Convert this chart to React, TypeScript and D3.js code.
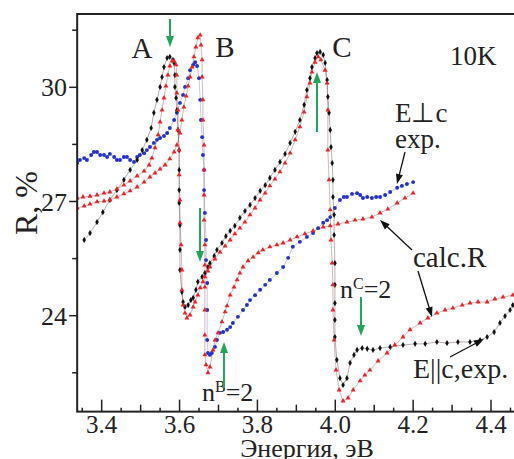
import React from "react";
import * as d3 from "d3";

// ---- data ----
// E||c experimental (black)
const blackExp: [number, number][] = [
  [3.355, 25.99], [3.37, 26.17], [3.388, 26.46], [3.403, 26.72], [3.421, 27.04], [3.439, 27.3],
  [3.457, 27.57], [3.473, 27.83], [3.491, 28.09], [3.504, 28.35], [3.516, 28.62], [3.527, 28.93],
  [3.534, 29.33], [3.542, 29.67], [3.55, 30.01], [3.555, 30.27], [3.56, 30.53], [3.568, 30.77],
  [3.575, 30.8], [3.583, 30.72], [3.586, 30.64], [3.588, 30.32], [3.588, 30.01], [3.591, 29.72],
  [3.593, 29.4], [3.596, 28.88], [3.599, 28.35], [3.599, 27.83], [3.599, 27.3], [3.599, 26.96],
  [3.601, 26.38], [3.601, 25.73], [3.601, 25.2], [3.606, 24.62], [3.609, 24.36], [3.614, 24.23],
  [3.622, 24.28], [3.629, 24.41], [3.635, 24.47], [3.642, 24.68], [3.647, 24.89], [3.658, 25.02],
  [3.665, 25.12], [3.673, 25.28], [3.678, 25.38], [3.689, 25.57], [3.696, 25.73], [3.709, 25.91],
  [3.719, 26.09], [3.73, 26.23], [3.742, 26.36], [3.755, 26.57], [3.768, 26.75], [3.781, 26.91],
  [3.794, 27.09], [3.807, 27.28], [3.82, 27.43], [3.832, 27.62], [3.845, 27.83], [3.858, 28.04],
  [3.871, 28.25], [3.884, 28.54], [3.897, 28.83], [3.909, 29.14], [3.92, 29.54], [3.927, 29.93],
  [3.935, 30.24], [3.94, 30.53], [3.948, 30.77], [3.953, 30.9], [3.961, 30.93], [3.969, 30.85],
  [3.974, 30.64], [3.979, 30.19], [3.981, 29.75], [3.984, 29.33], [3.987, 28.88], [3.989, 28.43],
  [3.992, 28.01], [3.994, 27.57], [3.994, 27.12], [3.997, 26.65], [3.997, 26.12], [3.999, 25.38],
  [3.999, 24.81], [3.999, 24.33], [3.999, 23.89], [3.999, 23.44], [4.004, 22.84], [4.012, 22.36],
  [4.02, 22.18], [4.03, 22.36], [4.038, 22.76], [4.048, 22.97], [4.056, 23.1], [4.069, 23.15],
  [4.082, 23.13], [4.097, 23.1], [4.115, 23.15], [4.141, 23.18], [4.174, 23.23], [4.205, 23.26],
  [4.231, 23.26], [4.261, 23.31], [4.287, 23.28], [4.315, 23.31], [4.346, 23.31], [4.372, 23.36],
  [4.39, 23.44], [4.408, 23.57], [4.423, 23.81], [4.436, 23.99], [4.449, 24.15], [4.456, 24.28],
];

// calc. R for E||c (red)
const redCalcPar: [number, number][] = [
  [3.337, 27.09], [3.352, 27.12], [3.37, 27.14], [3.388, 27.17], [3.406, 27.22], [3.421, 27.25],
  [3.439, 27.33], [3.457, 27.43], [3.473, 27.54], [3.491, 27.67], [3.509, 27.8], [3.522, 27.96],
  [3.529, 28.14], [3.537, 28.41], [3.545, 28.75], [3.55, 29.09], [3.555, 29.4], [3.56, 29.72],
  [3.565, 30.03], [3.57, 30.32], [3.575, 30.56], [3.581, 30.69], [3.586, 30.69], [3.591, 30.59],
  [3.593, 30.32], [3.593, 29.85], [3.596, 29.4], [3.596, 28.88], [3.599, 28.35], [3.599, 27.7],
  [3.601, 27.04], [3.601, 26.44], [3.604, 25.86], [3.606, 25.2], [3.606, 24.68], [3.609, 24.28],
  [3.614, 24.07], [3.619, 23.94], [3.627, 24.02], [3.635, 24.23], [3.64, 24.36], [3.647, 24.54],
  [3.653, 24.73], [3.66, 24.89], [3.665, 25.02], [3.673, 25.17], [3.678, 25.28], [3.691, 25.49],
  [3.704, 25.67], [3.717, 25.83], [3.73, 25.99], [3.742, 26.15], [3.755, 26.3], [3.768, 26.46],
  [3.781, 26.65], [3.794, 26.83], [3.807, 27.04], [3.82, 27.22], [3.832, 27.41], [3.845, 27.59],
  [3.858, 27.78], [3.871, 28.01], [3.884, 28.27], [3.897, 28.62], [3.909, 28.96], [3.92, 29.35],
  [3.927, 29.75], [3.935, 30.11], [3.94, 30.4], [3.948, 30.66], [3.956, 30.8], [3.963, 30.72],
  [3.974, 30.45], [3.979, 30.11], [3.981, 29.4], [3.981, 28.35], [3.984, 27.57], [3.987, 26.78],
  [3.989, 25.99], [3.992, 25.38], [3.994, 24.81], [3.994, 24.15], [3.997, 23.36], [4.002, 22.57],
  [4.01, 22.05], [4.02, 21.76], [4.033, 21.84], [4.046, 22.05], [4.064, 22.29], [4.076, 22.44],
  [4.089, 22.57], [4.11, 22.81], [4.133, 23.02], [4.153, 23.23], [4.174, 23.44], [4.192, 23.63],
  [4.218, 23.81], [4.238, 23.94], [4.261, 24.07], [4.282, 24.15], [4.302, 24.2], [4.326, 24.28],
  [4.346, 24.33], [4.367, 24.36], [4.39, 24.36], [4.41, 24.44], [4.431, 24.49], [4.456, 24.54],
];

// calc. R for E⊥c (red)
const redCalcPerp: [number, number][] = [
  [3.337, 26.83], [3.355, 26.88], [3.37, 26.93], [3.388, 26.99], [3.406, 27.01], [3.421, 27.04],
  [3.439, 27.12], [3.457, 27.2], [3.473, 27.28], [3.491, 27.38], [3.509, 27.51], [3.524, 27.64],
  [3.537, 27.75], [3.55, 27.85], [3.563, 27.96], [3.575, 28.12], [3.586, 28.3], [3.593, 28.48],
  [3.601, 28.8], [3.606, 29.14], [3.611, 29.48], [3.617, 29.77], [3.622, 30.03], [3.627, 30.27],
  [3.632, 30.53], [3.637, 30.8], [3.642, 31.06], [3.647, 31.3], [3.653, 31.37], [3.655, 31.11],
  [3.658, 30.72], [3.658, 30.27], [3.66, 29.67], [3.66, 29.14], [3.663, 28.48], [3.663, 27.83],
  [3.663, 27.17], [3.663, 26.51], [3.665, 25.86], [3.665, 25.33], [3.665, 24.75], [3.665, 24.15],
  [3.665, 23.49], [3.665, 22.97], [3.668, 22.71], [3.673, 22.5], [3.678, 22.65], [3.686, 23.1],
  [3.691, 23.36], [3.699, 23.55], [3.709, 23.84], [3.717, 24.1], [3.722, 24.26], [3.73, 24.54],
  [3.74, 24.75], [3.748, 24.94], [3.755, 25.12], [3.763, 25.28], [3.776, 25.44], [3.789, 25.54],
  [3.802, 25.65], [3.814, 25.73], [3.832, 25.81], [3.85, 25.86], [3.866, 25.91], [3.884, 25.99],
  [3.902, 26.07], [3.922, 26.15], [3.943, 26.23], [3.969, 26.33], [3.987, 26.36], [4.007, 26.41],
  [4.03, 26.46], [4.051, 26.51], [4.071, 26.54], [4.094, 26.59], [4.115, 26.7], [4.135, 26.8],
  [4.159, 26.96], [4.179, 27.09], [4.2, 27.22],
];

// E⊥c experimental (blue)
const blueExp: [number, number][] = [
  [3.337, 28.01], [3.344, 28.09], [3.355, 28.14], [3.362, 28.09], [3.373, 28.22], [3.38, 28.3],
  [3.388, 28.3], [3.396, 28.22], [3.406, 28.22], [3.414, 28.17], [3.421, 28.25], [3.432, 28.17],
  [3.439, 28.09], [3.447, 28.09], [3.457, 28.17], [3.465, 28.17], [3.473, 28.09], [3.483, 28.04],
  [3.491, 28.17], [3.498, 28.22], [3.509, 28.27], [3.516, 28.35], [3.524, 28.43], [3.534, 28.54],
  [3.542, 28.62], [3.55, 28.67], [3.56, 28.72], [3.568, 28.8], [3.575, 28.93], [3.586, 29.14],
  [3.593, 29.33], [3.601, 29.59], [3.609, 29.8], [3.614, 30.01], [3.622, 30.24], [3.627, 30.45],
  [3.635, 30.59], [3.64, 30.66], [3.645, 30.56], [3.65, 30.24], [3.653, 29.67], [3.655, 29.14],
  [3.658, 28.69], [3.66, 28.22], [3.663, 27.83], [3.663, 27.3], [3.665, 26.7], [3.668, 25.99],
  [3.668, 25.46], [3.671, 24.86], [3.671, 24.15], [3.671, 23.36], [3.673, 23.02], [3.678, 22.97],
  [3.683, 23.02], [3.691, 23.18], [3.696, 23.36], [3.704, 23.55], [3.712, 23.57], [3.722, 23.63],
  [3.73, 23.7], [3.737, 23.81], [3.75, 23.97], [3.763, 24.15], [3.773, 24.28], [3.781, 24.41],
  [3.794, 24.54], [3.807, 24.68], [3.82, 24.81], [3.832, 24.94], [3.85, 25.12], [3.866, 25.28],
  [3.879, 25.52], [3.891, 25.81], [3.909, 25.94], [3.927, 26.07], [3.943, 26.17], [3.956, 26.3],
  [3.969, 26.44], [3.979, 26.51], [3.987, 26.59], [3.999, 26.83], [4.012, 27.04], [4.022, 27.12],
  [4.03, 27.12], [4.043, 27.2], [4.056, 27.22], [4.064, 27.17], [4.071, 27.09], [4.082, 27.12],
  [4.094, 27.09], [4.105, 27.12], [4.115, 27.12], [4.128, 27.17], [4.141, 27.25], [4.159, 27.36],
  [4.171, 27.41], [4.184, 27.46], [4.2, 27.51],
];

const xTickLabels = ["3.4", "3.6", "3.8", "4.0", "4.2", "4.4"];
const yTickLabels = ["24", "27", "30"];

const W = 514;
const H = 459;
const FONT = "Liberation Serif";
const GREEN = "#1fa85a";
const INK = "#222";

type TProps = {
  x: number;
  y: number;
  size: number;
  anchor?: string;
  transform?: string;
  children: React.ReactNode;
};

function T({ x, y, size, anchor, transform, children }: TProps) {
  return (
    <text
      x={x}
      y={y}
      transform={transform}
      fontSize={size}
      textAnchor={anchor || "start"}
      fill={INK}
      style={{ fontFamily: FONT }}
    >
      {children}
    </text>
  );
}

export default function App() {
  const x = d3.scaleLinear().domain([3.4, 4.4]).range([101.7, 491]);
  const y = d3.scaleLinear().domain([24, 30]).range([315.7, 87.3]);

  const left = x(3.337);
  const right = 516;
  const top = 14;
  const bottom = y(21.48);

  const line = d3
    .line<[number, number]>()
    .x((d) => x(d[0]))
    .y((d) => y(d[1]));

  const tri = d3.symbol().type(d3.symbolTriangle).size(11)() as string;
  const dia = d3.symbol().type(d3.symbolDiamond).size(11)() as string;
  const circ = d3.symbol().type(d3.symbolCircle).size(12)() as string;

  const xTickVals: number[] = [];
  for (let k = 67; k <= 89; k++) xTickVals.push(k / 20);

  const yMinor = [22.5, 25.5, 28.5, 31.5];

  const series = [
    { data: blueExp, color: "#2233cc", lineColor: "rgba(60,60,160,0.4)", sym: circ },
    { data: blackExp, color: "#111111", lineColor: "rgba(90,60,60,0.6)", sym: dia },
    { data: redCalcPerp, color: "#e8262a", lineColor: "rgba(150,80,80,0.6)", sym: tri },
    { data: redCalcPar, color: "#e8262a", lineColor: "rgba(150,80,80,0.6)", sym: tri },
  ];

  const arrowHead = (x1: number, y1: number, x2: number, y2: number, len: number, wid: number) => {
    const a = Math.atan2(y2 - y1, x2 - x1);
    const bx = x2 - len * Math.cos(a);
    const by = y2 - len * Math.sin(a);
    const px = -Math.sin(a) * wid;
    const py = Math.cos(a) * wid;
    return `M${x2},${y2}L${bx + px},${by + py}L${bx - px},${by - py}Z`;
  };

  const greenArrows = [
    { x1: 170, y1: 19, x2: 170, y2: 47 },
    { x1: 200, y1: 208, x2: 200, y2: 262 },
    { x1: 224, y1: 388, x2: 224, y2: 342 },
    { x1: 317, y1: 132, x2: 317, y2: 72 },
    { x1: 361, y1: 297, x2: 361, y2: 336 },
  ];
  const blackArrows = [
    { x1: 405, y1: 152, x2: 397, y2: 184 },
    { x1: 412, y1: 250, x2: 380, y2: 220 },
    { x1: 418, y1: 271, x2: 432, y2: 317 },
    { x1: 450, y1: 357, x2: 484, y2: 339 },
  ];

  return (
    <svg width={W} height={H} style={{ position: "absolute", left: 0, top: 0 }}>
      <defs>
        <clipPath id="plot">
          <rect x={left} y={top} width={right - left} height={bottom - top} />
        </clipPath>
      </defs>
      <rect x={0} y={0} width={W} height={H} fill="#fff" />

      <g clipPath="url(#plot)">
        {series.map((s, i) => (
          <path key={"l" + i} d={line(s.data) || ""} fill="none" stroke={s.lineColor} strokeWidth={0.7} />
        ))}
        {series.map((s, i) => (
          <g key={"m" + i} fill={s.color}>
            {s.data.map((d, j) => (
              <path key={j} d={s.sym} transform={`translate(${x(d[0])},${y(d[1])})`} />
            ))}
          </g>
        ))}
      </g>

      {/* frame */}
      <rect x={left} y={top} width={right - left} height={bottom - top} fill="none" stroke={INK} strokeWidth={2} />

      {/* x ticks (inward) */}
      {xTickVals.map((v) => {
        const k = Math.round(v * 100);
        const len = k % 20 === 0 ? 12 : k % 10 === 0 ? 7 : 4;
        return <line key={v} x1={x(v)} x2={x(v)} y1={bottom} y2={bottom - len} stroke={INK} strokeWidth={1.5} />;
      })}
      {xTickLabels.map((t) => (
        <T key={t} x={x(+t)} y={433} size={25} anchor="middle">
          {t}
        </T>
      ))}

      {/* y ticks (outward) */}
      {yTickLabels.map((t) => (
        <g key={t}>
          <line x1={left - 8} x2={left} y1={y(+t)} y2={y(+t)} stroke={INK} strokeWidth={1.5} />
          <T x={67} y={y(+t) + 9} size={26} anchor="end">
            {t}
          </T>
        </g>
      ))}
      {yMinor.map((v) => (
        <line key={v} x1={left - 5} x2={left} y1={y(v)} y2={y(v)} stroke={INK} strokeWidth={1.5} />
      ))}

      {/* axis titles */}
      <T x={307} y={457} size={26} anchor="middle">Энергия, эВ</T>
      <T x={0} y={0} size={32} anchor="middle" transform="translate(37,203) rotate(-90)">R, %</T>

      {/* annotations */}
      <T x={142} y={58} size={29} anchor="middle">A</T>
      <T x={225} y={57} size={29} anchor="middle">B</T>
      <T x={342} y={57} size={29} anchor="middle">C</T>
      <T x={450} y={65} size={27}>10K</T>
      <T x={395} y={122} size={27}>E⊥c</T>
      <T x={395} y={148} size={27}>exp.</T>
      <T x={413} y={267} size={29}>calc.R</T>
      <T x={413} y={378} size={28}>E||c,exp.</T>
      <T x={340} y={298} size={26}>
        n<tspan dy={-9} fontSize={16}>C</tspan><tspan dy={9}>=2</tspan>
      </T>
      <T x={202} y={401} size={26}>
        n<tspan dy={-9} fontSize={16}>B</tspan><tspan dy={9}>=2</tspan>
      </T>

      {greenArrows.map((a, i) => (
        <g key={"g" + i}>
          <line x1={a.x1} y1={a.y1} x2={a.x2} y2={a.y2 - Math.sign(a.y2 - a.y1) * 8} stroke={GREEN} strokeWidth={2} />
          <path d={arrowHead(a.x1, a.y1, a.x2, a.y2, 11, 4)} fill={GREEN} />
        </g>
      ))}
      {blackArrows.map((a, i) => {
        const ang = Math.atan2(a.y2 - a.y1, a.x2 - a.x1);
        return (
          <g key={"b" + i}>
            <line x1={a.x1} y1={a.y1} x2={a.x2 - 7 * Math.cos(ang)} y2={a.y2 - 7 * Math.sin(ang)} stroke="#111" strokeWidth={1.3} />
            <path d={arrowHead(a.x1, a.y1, a.x2, a.y2, 10, 3.5)} fill="#111" />
          </g>
        );
      })}
    </svg>
  );
}
